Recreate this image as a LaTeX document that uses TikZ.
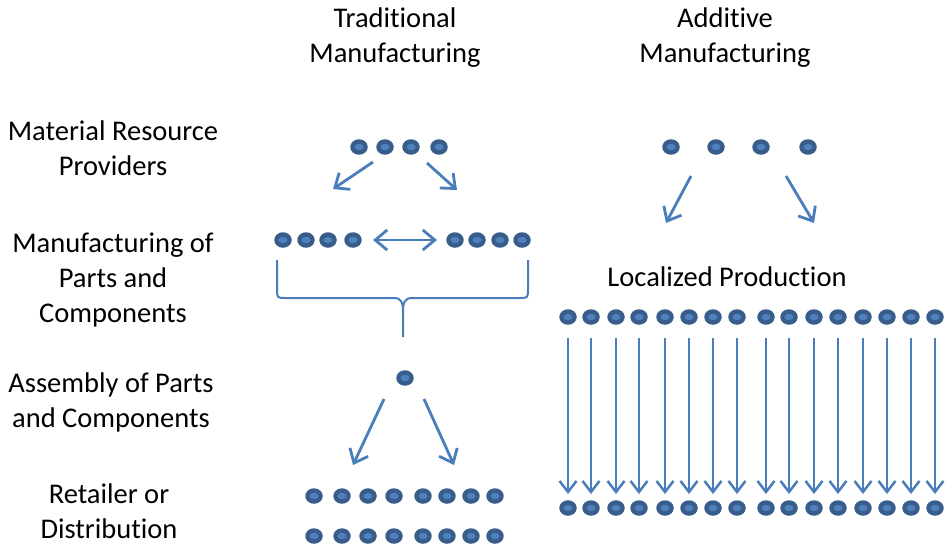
\documentclass[tikz,border=0pt]{standalone}
\usepackage{fontspec}
\setmainfont{Carlito}[Ligatures=NoCommon]
\usetikzlibrary{arrows.meta,shapes.geometric}
\definecolor{dotout}{HTML}{385D8A}
\definecolor{dotin}{HTML}{4F81BD}
\definecolor{arrowc}{HTML}{4A7EBB}
\tikzset{
  dot/.style={ellipse,fill=dotout,minimum width=17.5pt,minimum height=15.5pt,inner sep=0pt,
    path picture={\fill[dotin] (path picture bounding box.center) ellipse (4.5pt and 3.2pt);}},
  arr/.style={draw=arrowc,line width=2.8pt,-{Straight Barb[length=12pt,width=20pt]}},
  varr/.style={draw=arrowc,line width=2.5pt,-{Straight Barb[length=11pt,width=17pt]},shorten <=21pt,shorten >=14pt},
  darr/.style={draw=arrowc,line width=2.8pt,{Straight Barb[length=12pt,width=20pt]}-{Straight Barb[length=12pt,width=20pt]}},
  brace/.style={draw=arrowc,line width=2pt},
  lbl/.style={font=\fontsize{28.5}{35}\selectfont,align=center,inner sep=0pt,anchor=base}
}
\begin{document}
\begin{tikzpicture}[x=1pt,y=-1pt]
\useasboundingbox[fill=white] (0,0) rectangle (946,550);
% labels (anchored at baseline of last line)
\node[lbl] (tradt) at (395,62) {Traditional\\Manufacturing};
\node[lbl] (addt) at (725,62) {Additive\\Manufacturing};
\node[lbl] (l1) at (113,175) {Material Resource\\Providers};
\node[lbl] (l2) at (113,322) {Manufacturing of\\Parts and\\Components};
\node[lbl] (l3) at (111,427) {Assembly of Parts\\and Components};
\node[lbl] (l4) at (109,538) {Retailer or\\Distribution};
\node[lbl] (loc) at (727,286) {Localized Production};
% traditional top dots
\foreach \x [count=\i] in {359,385,411,439} \node[dot] (tt\i) at (\x,147) {};
% manufacturing rows
\foreach \x [count=\i] in {283,306,328,353} \node[dot] (ml\i) at (\x,240) {};
\foreach \x [count=\i] in {455,477,500,522} \node[dot] (mr\i) at (\x,240) {};
% assembly
\node[dot] (asm) at (405,378) {};
% retail rows
\foreach \x [count=\i] in {314,342,368,394,423,447,471,495} {
  \node[dot] (ra\i) at (\x,496) {};
  \node[dot] (rb\i) at (\x,536) {};
}
% arrows traditional
\coordinate (a1s) at (373,162); \coordinate (a1e) at (333,189);
\coordinate (a2s) at (427,163); \coordinate (a2e) at (457,190);
\draw[arr] (a1s) -- (a1e);
\draw[arr] (a2s) -- (a2e);
\coordinate (d1) at (373,240); \coordinate (d2) at (437,240);
\draw[darr] (d1) -- (d2);
\coordinate (b1s) at (384,399); \coordinate (b1e) at (353,465);
\coordinate (b2s) at (424,399); \coordinate (b2e) at (454,465);
\draw[arr] (b1s) -- (b1e);
\draw[arr] (b2s) -- (b2e);
% brace
\draw[brace] (277,260) -- (277,289) .. controls (277,298) .. (286,298) -- (394,298)
  .. controls (401,298) and (403,302) .. (403,312) -- (403,337);
\draw[brace] (528,260) -- (528,289) .. controls (528,298) .. (519,298) -- (412,298)
  .. controls (405,298) and (403,302) .. (403,312);
% additive top
\foreach \x [count=\i] in {671,716,761,808} \node[dot] (at\i) at (\x,147) {};
\coordinate (c1s) at (691,176); \coordinate (c1e) at (666,223);
\coordinate (c2s) at (786,176); \coordinate (c2e) at (814,223);
\draw[arr] (c1s) -- (c1e);
\draw[arr] (c2s) -- (c2e);
% localized production
\foreach \x [count=\i] in {568,591,616,639,665,689,713,737,766,789,814,838,863,887,911,935} {
  \node[dot] (pu\i) at (\x,317) {};
  \node[dot] (pd\i) at (\x,508) {};
  \draw[varr] (pu\i.center) -- (pd\i.center);
}
\end{tikzpicture}
\end{document}
